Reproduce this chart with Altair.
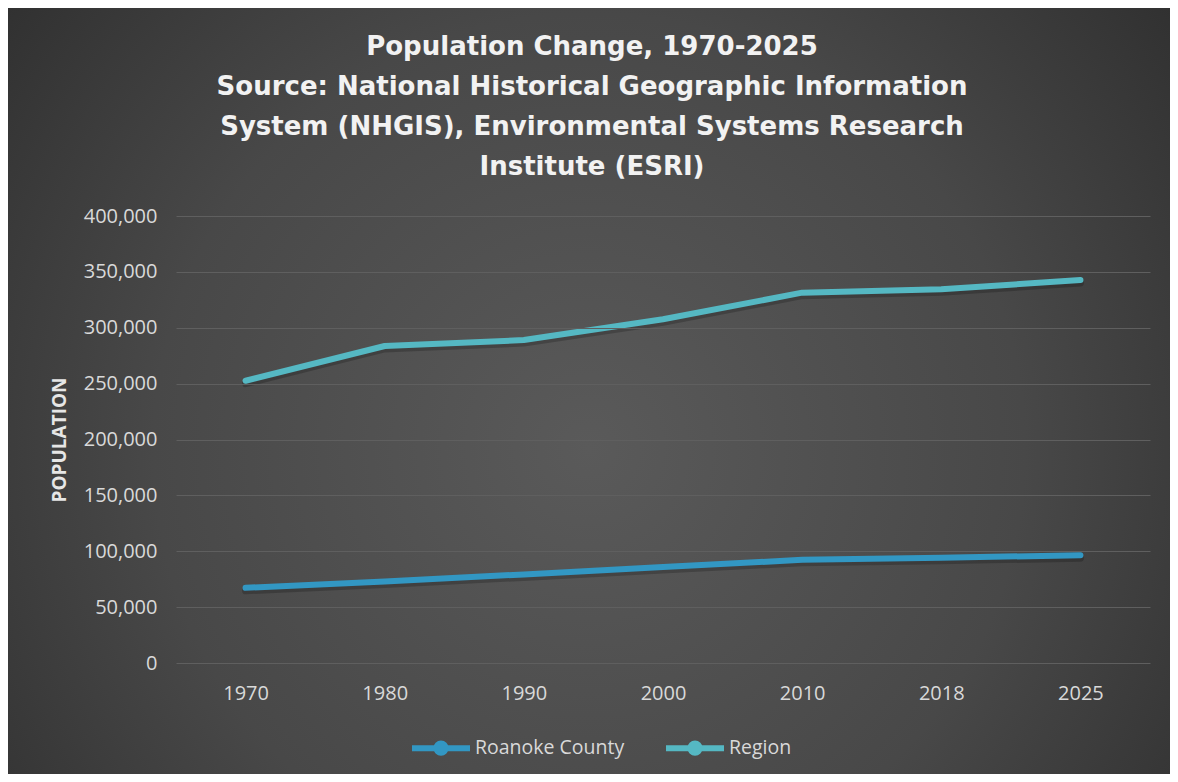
import altair as alt
import pandas as pd

years = ["1970", "1980", "1990", "2000", "2010", "2018", "2025"]
roanoke = [67300, 72900, 79300, 85800, 92300, 94100, 96500]
region = [252600, 283700, 289000, 307600, 331400, 334400, 342700]
series = ["Roanoke County", "Region"]
colors = ["#3297c3", "#55b8c3"]
y_ticks = [0, 50000, 100000, 150000, 200000, 250000, 300000, 350000, 400000]
title_lines = [
    "Population Change, 1970-2025",
    "Source: National Historical Geographic Information",
    "System (NHGIS), Environmental Systems Research",
    "Institute (ESRI)",
]

rows = []
for s, vals in zip(series, [roanoke, region]):
    for y, v in zip(years, vals):
        rows.append({"Year": y, "Population": v, "Series": s})
df = pd.DataFrame(rows)

W, H = 974, 447
PAD = {"left": 168, "top": 208, "right": 20, "bottom": 111}

x_enc = alt.X("Year:O", sort=years, scale=alt.Scale(type="point", padding=0.5),
              axis=alt.Axis(title=None, labelAngle=0, labelColor="#d9d9d9", labelFontSize=20,
                            labelFont="Open Sans", ticks=False, tickSize=0, domain=False,
                            grid=False, labelPadding=20, zindex=1))
y_enc = alt.Y("Population:Q", scale=alt.Scale(domain=[0, 400000], nice=False),
              axis=alt.Axis(title="POPULATION", values=y_ticks, format=",.0f",
                            labelColor="#d9d9d9", labelFontSize=20, labelFont="Open Sans",
                            ticks=False, tickSize=0, domain=False, labelPadding=19,
                            grid=True, gridColor="#5f5f5f", gridWidth=1.2,
                            titleColor="#e6e6e6", titleFont="Open Sans", titleFontSize=19,
                            titleFontWeight="bold", titlePadding=14, zindex=1))

bg = alt.Chart(alt.Data(values=[{}])).mark_rect(
    color=alt.Gradient(
        gradient="radial",
        stops=[alt.GradientStop(color="#5a5a5a", offset=0),
               alt.GradientStop(color="#484848", offset=0.5),
               alt.GradientStop(color="#262626", offset=1)],
        x1=0.5, y1=0.55, r1=0, x2=0.5, y2=0.55, r2=0.75,
    )
).encode(
    x=alt.value(-PAD["left"]), x2=alt.value(W + PAD["right"]),
    y=alt.value(-PAD["top"]), y2=alt.value(H + PAD["bottom"]),
)

grid_layer = alt.Chart(df).mark_line(opacity=0).encode(x=x_enc, y=y_enc)

shadow = alt.Chart(df).mark_line(strokeWidth=7, color="#000000", opacity=0.2, yOffset=3,
                                 strokeCap="round", strokeJoin="round").encode(
    x=alt.X("Year:O", sort=years), y="Population:Q", detail="Series:N"
)

legend_path = ("M-1,0 L1,0 "
               "M0.16,0 A0.16,0.16 0 1,1 -0.16,0 A0.16,0.16 0 1,1 0.16,0 "
               "M0.06,0 A0.06,0.06 0 1,1 -0.06,0 A0.06,0.06 0 1,1 0.06,0")

lines = alt.Chart(df).mark_line(strokeWidth=6, strokeCap="round", strokeJoin="round").encode(
    x=alt.X("Year:O", sort=years),
    y="Population:Q",
    color=alt.Color("Series:N", sort=series,
                    scale=alt.Scale(domain=series, range=colors),
                    legend=alt.Legend(title=None, orient="none", direction="horizontal",
                                      legendX=233, legendY=500,
                                      symbolType=legend_path, symbolSize=3364,
                                      symbolStrokeWidth=6, labelColor="#d9d9d9",
                                      labelFontSize=19.5, labelFont="Open Sans",
                                      labelOffset=2, columnPadding=29)),
)

chart = alt.layer(bg, grid_layer, shadow, lines).properties(
    width=W, height=H,
    padding=PAD,
    autosize=alt.AutoSizeParams(type="none"),
    background="#262626",
    title=alt.TitleParams(text=title_lines, fontSize=26, font="DejaVu Sans", fontWeight="bold",
                          color="#f2f2f2", lineHeight=40, anchor="middle", frame="group",
                          dx=-71, offset=0, dy=172, zindex=1),
).configure_view(stroke=None)

chart.save("out.html", embed_options={"renderer": "svg", "actions": False})
